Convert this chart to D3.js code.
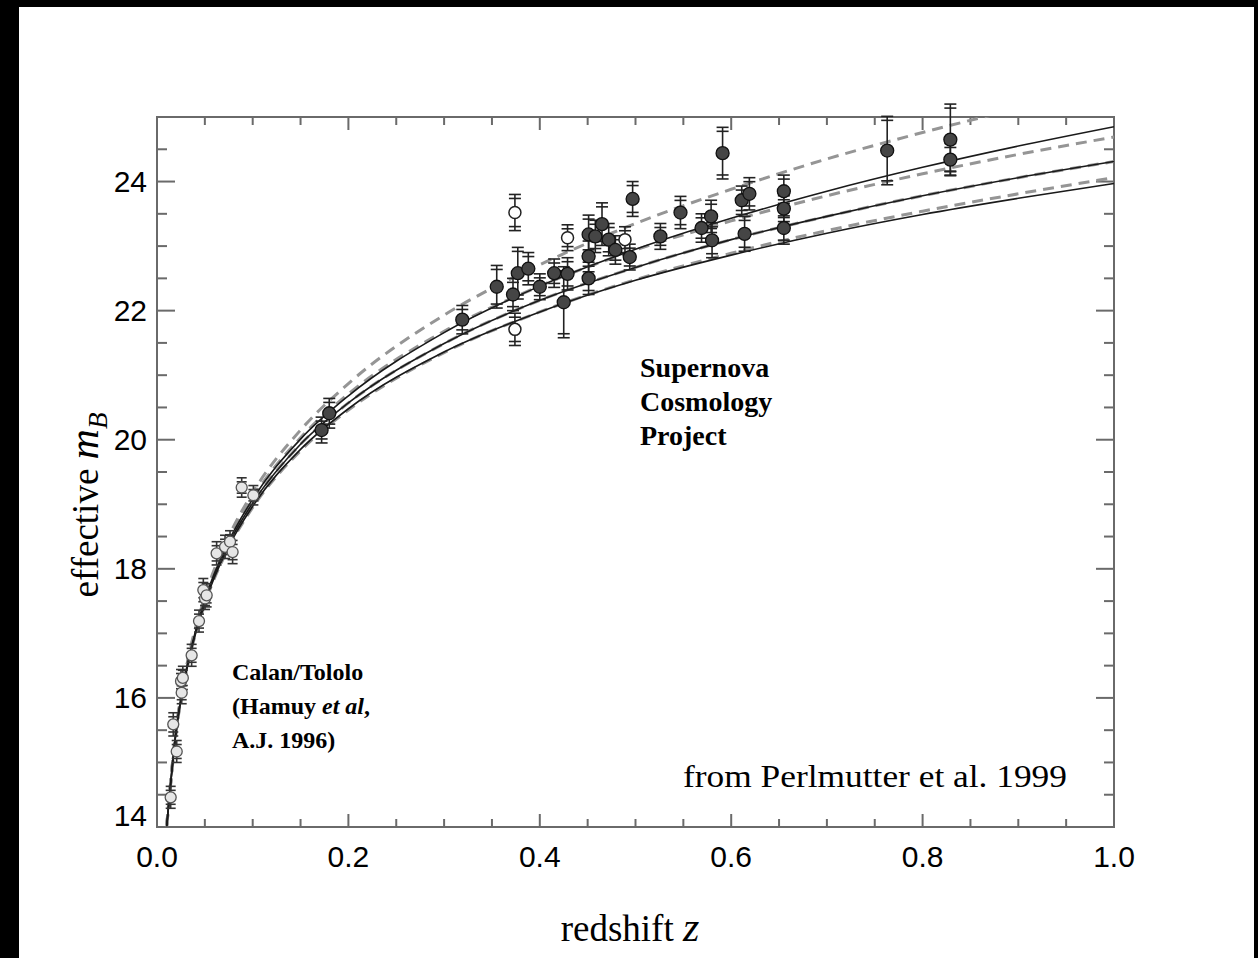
<!DOCTYPE html>
<html>
<head>
<meta charset="utf-8">
<script src="https://cdnjs.cloudflare.com/ajax/libs/d3/7.8.5/d3.min.js"></script>
<style>
  html, body { margin: 0; padding: 0; background: #000; }
  svg { display: block; }
</style>
</head>
<body>
<div id="plotarea"></div>
<script>
// model curves at these redshifts
var zGrid = [0.0102, 0.02, 0.03, 0.05, 0.075, 0.1, 0.15, 0.2, 0.3, 0.4, 0.5, 0.6, 0.7, 0.8, 0.9, 1.0];
var solidEmpty = [14.02, 15.50, 16.39, 17.52, 18.43, 19.08, 20.01, 20.68, 21.66, 22.38, 22.95, 23.43, 23.85, 24.22, 24.55, 24.85];
var solidOne   = [14.02, 15.49, 16.37, 17.49, 18.39, 19.02, 19.93, 20.57, 21.49, 22.16, 22.67, 23.10, 23.46, 23.78, 24.06, 24.31];
var solidTwo   = [14.01, 15.48, 16.36, 17.47, 18.35, 18.97, 19.85, 20.48, 21.36, 21.98, 22.47, 22.86, 23.20, 23.49, 23.74, 23.97];
var dashLam1   = [14.03, 15.52, 16.42, 17.57, 18.50, 19.18, 20.15, 20.87, 21.93, 22.71, 23.35, 23.88, 24.35, 24.76, 25.13, 25.48];
var dashHalf   = [14.03, 15.50, 16.40, 17.53, 18.44, 19.10, 20.03, 20.71, 21.68, 22.38, 22.94, 23.39, 23.78, 24.12, 24.42, 24.69];
var dashOne    = solidOne;
var dashNeg    = [14.01, 15.47, 16.35, 17.45, 18.33, 18.95, 19.83, 20.46, 21.35, 21.98, 22.48, 22.89, 23.24, 23.54, 23.81, 24.06];

// Calan/Tololo supernovae (open grey circles)
var ctZ   = [0.0143, 0.017, 0.0206, 0.0251, 0.027, 0.0258, 0.0362, 0.0439, 0.0484, 0.0502, 0.0519, 0.0623, 0.0711, 0.0763, 0.079, 0.0885, 0.1007];
var ctM   = [14.46, 15.59, 15.17, 16.26, 16.31, 16.08, 16.66, 17.19, 17.67, 17.54, 17.59, 18.24, 18.34, 18.42, 18.26, 19.26, 19.14];
var ctErr = [0.17, 0.18, 0.17, 0.18, 0.18, 0.17, 0.17, 0.17, 0.18, 0.17, 0.18, 0.18, 0.18, 0.17, 0.18, 0.15, 0.15];

// Supernova Cosmology Project, filled
var scpZ   = [0.172, 0.180, 0.319, 0.355, 0.372, 0.377, 0.388, 0.400, 0.415, 0.429, 0.425, 0.451, 0.451, 0.451, 0.465, 0.458, 0.472, 0.479, 0.494, 0.497, 0.526, 0.547, 0.569, 0.579, 0.580, 0.591, 0.611, 0.619, 0.614, 0.655, 0.655, 0.655, 0.763, 0.829, 0.829];
var scpM   = [20.15, 20.41, 21.86, 22.37, 22.25, 22.58, 22.65, 22.37, 22.58, 22.57, 22.13, 23.18, 22.84, 22.50, 23.34, 23.15, 23.10, 22.94, 22.83, 23.73, 23.15, 23.52, 23.28, 23.46, 23.09, 24.44, 23.71, 23.81, 23.19, 23.85, 23.58, 23.28, 24.48, 24.65, 24.34];
var scpErr = [0.20, 0.23, 0.22, 0.33, 0.25, 0.40, 0.25, 0.20, 0.22, 0.25, 0.55, 0.30, 0.30, 0.25, 0.33, 0.25, 0.25, 0.22, 0.20, 0.27, 0.20, 0.25, 0.22, 0.25, 0.27, 0.40, 0.22, 0.25, 0.27, 0.25, 0.20, 0.25, 0.53, 0.55, 0.25];

// Supernova Cosmology Project, open
var scpOpenZ   = [0.374, 0.374, 0.429, 0.489];
var scpOpenM   = [23.52, 21.71, 23.13, 23.10];
var scpOpenErr = [0.28, 0.25, 0.20, 0.20];

var xTicks = [0.0, 0.2, 0.4, 0.6, 0.8, 1.0];
var yTicks = [14, 16, 18, 20, 22, 24];

var W = 1258, H = 958;
var margin = {top: 117, right: 144, bottom: 131, left: 157},
    width = W - margin.left - margin.right,
    height = H - margin.top - margin.bottom;

var svg = d3.select("#plotarea")
  .append("svg")
    .attr("width", W)
    .attr("height", H);

// white sheet over the black page
svg.append("rect")
  .attr("x", 19).attr("y", 7)
  .attr("width", 1254 - 19).attr("height", H - 7)
  .attr("fill", "#fff");

var g = svg.append("g")
  .attr("transform", "translate(" + margin.left + "," + margin.top + ")");

var x = d3.scaleLinear().domain([0, 1]).range([0, width]);
var y = d3.scaleLinear().domain([14, 25]).range([height, 0]);

g.append("clipPath").attr("id", "clip")
  .append("rect").attr("width", width).attr("height", height);

// axes with minor ticks on all four sides
var xMinor = d3.range(0, 1.0001, 0.05);
var yMinor = d3.range(14, 25.0001, 0.5);
function isMajorX(d) { return Math.abs(d * 5 - Math.round(d * 5)) < 1e-6; }
function isMajorY(d) { return Math.abs(d / 2 - Math.round(d / 2)) < 1e-6; }

var frameCol = "#6a6a6a";
var ticks = g.append("g").attr("stroke", frameCol).attr("stroke-width", 2);
xMinor.forEach(function(d) {
  var len = isMajorX(d) ? 13 : 8;
  ticks.append("line").attr("x1", x(d)).attr("x2", x(d)).attr("y1", height).attr("y2", height - len);
  ticks.append("line").attr("x1", x(d)).attr("x2", x(d)).attr("y1", 0).attr("y2", len);
});
yMinor.forEach(function(d) {
  var len = isMajorY(d) ? 18 : 10;
  ticks.append("line").attr("y1", y(d)).attr("y2", y(d)).attr("x1", 0).attr("x2", len);
  ticks.append("line").attr("y1", y(d)).attr("y2", y(d)).attr("x1", width).attr("x2", width - len);
});

g.append("rect")
  .attr("width", width).attr("height", height)
  .attr("fill", "none").attr("stroke", frameCol).attr("stroke-width", 2);

// tick labels
g.append("g").selectAll("text")
  .data(xTicks).enter().append("text")
    .attr("x", function(d) { return x(d); })
    .attr("y", height + 40)
    .attr("text-anchor", "middle")
    .style("font-family", "'Liberation Sans', Arial, sans-serif")
    .style("font-size", "30px")
    .text(function(d) { return d.toFixed(1); });

g.append("g").selectAll("text")
  .data(yTicks).enter().append("text")
    .attr("x", -10)
    .attr("y", function(d) { return y(d) + (d === 14 ? -1 : 10); })
    .attr("text-anchor", "end")
    .style("font-family", "'Liberation Sans', Arial, sans-serif")
    .style("font-size", "30px")
    .text(function(d) { return d; });

// model curves
var plot = g.append("g").attr("clip-path", "url(#clip)");
var line = d3.line()
  .x(function(d) { return x(d[0]); })
  .y(function(d) { return y(d[1]); })
  .curve(d3.curveMonotoneX);
function pts(arr) { return zGrid.map(function(z, i) { return [z, arr[i]]; }); }

[dashLam1, dashHalf, dashOne, dashNeg].forEach(function(arr) {
  plot.append("path").datum(pts(arr))
    .attr("d", line)
    .attr("fill", "none")
    .attr("stroke", "#959595")
    .attr("stroke-width", 3)
    .attr("stroke-dasharray", "11,7");
});
[solidEmpty, solidOne, solidTwo].forEach(function(arr) {
  plot.append("path").datum(pts(arr))
    .attr("d", line)
    .attr("fill", "none")
    .attr("stroke", "#1a1a1a")
    .attr("stroke-width", 1.6);
});

// error bars with double caps
function errorBars(zs, ms, es, col, cap) {
  var eb = g.append("g").attr("stroke", col).attr("stroke-width", 1.6);
  zs.forEach(function(z, i) {
    var cx = x(z), y0 = y(ms[i] + es[i]), y1 = y(ms[i] - es[i]);
    eb.append("line").attr("x1", cx).attr("x2", cx).attr("y1", y0).attr("y2", y1);
    [y0, y0 + 4, y1, y1 - 4].forEach(function(yy) {
      eb.append("line").attr("x1", cx - cap).attr("x2", cx + cap).attr("y1", yy).attr("y2", yy);
    });
  });
}
errorBars(ctZ, ctM, ctErr, "#333", 5);
errorBars(scpZ, scpM, scpErr, "#222", 6);
errorBars(scpOpenZ, scpOpenM, scpOpenErr, "#222", 6);

// points
g.append("g").selectAll("circle")
  .data(ctZ).enter().append("circle")
    .attr("cx", function(d) { return x(d); })
    .attr("cy", function(d, i) { return y(ctM[i]); })
    .attr("r", 5.5)
    .attr("fill", "#e6e6e6")
    .attr("stroke", "#555")
    .attr("stroke-width", 1.3);

g.append("g").selectAll("circle")
  .data(scpZ).enter().append("circle")
    .attr("cx", function(d) { return x(d); })
    .attr("cy", function(d, i) { return y(scpM[i]); })
    .attr("r", 6.5)
    .attr("fill", "#454545")
    .attr("stroke", "#111")
    .attr("stroke-width", 1.3);

g.append("g").selectAll("circle")
  .data(scpOpenZ).enter().append("circle")
    .attr("cx", function(d) { return x(d); })
    .attr("cy", function(d, i) { return y(scpOpenM[i]); })
    .attr("r", 6)
    .attr("fill", "#fff")
    .attr("stroke", "#222")
    .attr("stroke-width", 1.5);

// annotations
var serif = "'Liberation Serif', 'Times New Roman', serif";
var scp = svg.append("text")
  .style("font-family", serif).style("font-size", "28px").style("font-weight", "bold");
["Supernova", "Cosmology", "Project"].forEach(function(t, i) {
  scp.append("tspan").attr("x", 640).attr("y", 377 + i * 34).text(t);
});

var ct = svg.append("text")
  .style("font-family", serif).style("font-size", "24px").style("font-weight", "bold");
ct.append("tspan").attr("x", 232).attr("y", 680).text("Calan/Tololo");
ct.append("tspan").attr("x", 232).attr("y", 714).text("(Hamuy ");
ct.append("tspan").style("font-style", "italic").text("et al");
ct.append("tspan").text(",");
ct.append("tspan").attr("x", 232).attr("y", 748).text("A.J. 1996)");

svg.append("text")
  .attr("x", 683).attr("y", 787)
  .attr("textLength", 384)
  .attr("lengthAdjust", "spacingAndGlyphs")
  .style("font-family", serif).style("font-size", "31px")
  .text("from Perlmutter et al. 1999");

// axis titles
var xt = svg.append("text")
  .attr("x", 630).attr("y", 941)
  .attr("text-anchor", "middle")
  .style("font-family", serif).style("font-size", "37px");
xt.append("tspan").text("redshift ");
xt.append("tspan").style("font-style", "italic").style("font-size", "42px").text("z");

var yt = svg.append("text")
  .attr("transform", "translate(98,505) rotate(-90)")
  .attr("text-anchor", "middle")
  .style("font-family", serif).style("font-size", "37px");
yt.append("tspan").text("effective ");
yt.append("tspan").style("font-style", "italic").style("font-size", "42px").text("m");
yt.append("tspan").style("font-style", "italic").style("font-size", "27px").attr("dy", 9).text("B");
</script>
</body>
</html>
